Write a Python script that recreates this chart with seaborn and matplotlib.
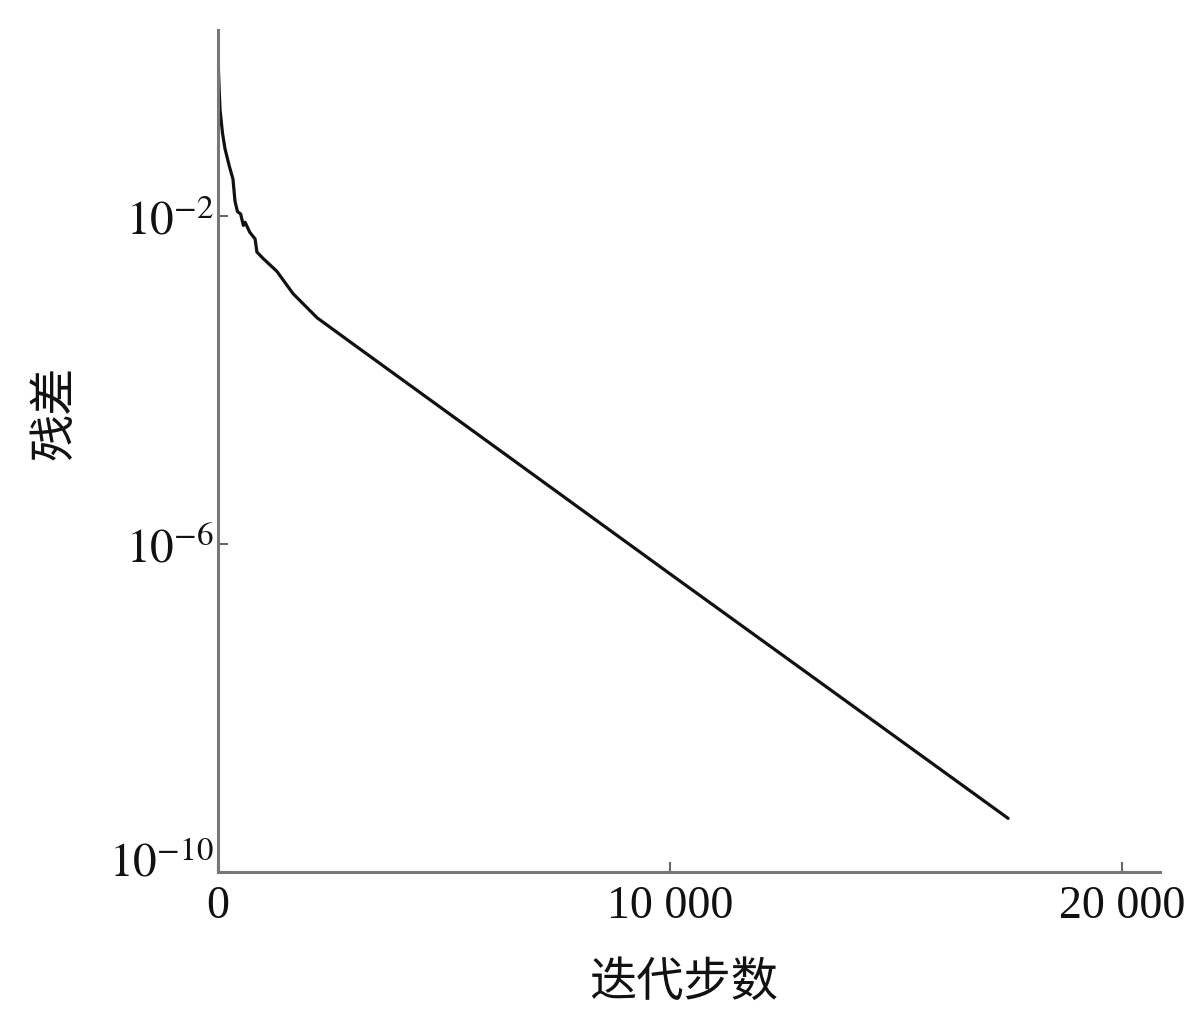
import numpy as np
import pandas as pd
import matplotlib
matplotlib.use("Agg")
import matplotlib.pyplot as plt
import matplotlib.transforms as mtransforms
import seaborn as sns

# residual history
iterations = [0, 20, 44, 100, 155, 250, 330, 375, 430, 500, 560, 600, 700, 820, 860,
              1000, 1300, 1660, 2190, 2920, 6240, 10000, 13000, 17480]
residual = [8.5e-1, 4.0e-1, 1.95e-1, 1.0e-1, 6.5e-2, 4.0e-2, 2.8e-2, 1.5e-2, 1.12e-2,
            1.05e-2, 7.6e-3, 8.3e-3, 6.3e-3, 5.2e-3, 3.6e-3, 3.0e-3, 2.1e-3, 1.12e-3,
            5.7e-4, 2.9e-4, 1.37e-5, 4.3e-7, 2.75e-8, 4.5e-10]

x_ticks = [0, 10000, 20000]
x_tick_labels = ["0", "10 000", "20 000"]
y_ticks = [1e-2, 1e-6, 1e-10]
y_tick_labels = [r"$10^{-2}$", r"$10^{-6}$", r"$10^{-10}$"]

df = pd.DataFrame({"iter": iterations, "res": residual})

sns.set_theme(style="ticks")
plt.rcParams["font.family"] = ["Noto Sans CJK SC", "DejaVu Sans"]
plt.rcParams["mathtext.fontset"] = "stix"

fig = plt.figure(figsize=(12, 10.29), dpi=100)
ax = fig.add_axes([0.1817, 0.1526, 0.785, 0.818])

sns.lineplot(data=df, x="iter", y="res", color="#111111", linewidth=2.3, ax=ax)
ax.set_yscale("log")
ax.set_xlim(0, 20840)
ax.set_ylim(1e-10, 10 ** 0.26)

ax.set_xticks(x_ticks)
ax.set_xticklabels(x_tick_labels, fontfamily="Liberation Serif", fontsize=33)
ax.set_yticks(y_ticks)
ax.set_yticklabels(y_tick_labels, fontsize=34)
ax.yaxis.set_minor_locator(matplotlib.ticker.NullLocator())

ax.tick_params(direction="in", length=7, width=1.5, color="#666666", labelcolor="#111111")
ax.tick_params(axis="x", pad=10)
ax.tick_params(axis="y", pad=3)

# lift the bottom y label a bit so it clears the "0"
lbl = ax.get_yticklabels()[-1]
lbl.set_transform(lbl.get_transform() + mtransforms.ScaledTranslation(0, 0.14, fig.dpi_scale_trans))

for side in ["top", "right"]:
    ax.spines[side].set_visible(False)
for side in ["left", "bottom"]:
    ax.spines[side].set_color("#777777")
    ax.spines[side].set_linewidth(2.2)

ax.set_xlabel("迭代步数", fontsize=34, color="#111111")
ax.set_ylabel("残差", fontsize=34, color="#111111")
ax.xaxis.set_label_coords(0.494, -0.103)
ax.yaxis.set_label_coords(-0.147, 0.546)

fig.savefig("out.png", dpi=100, facecolor="white")
